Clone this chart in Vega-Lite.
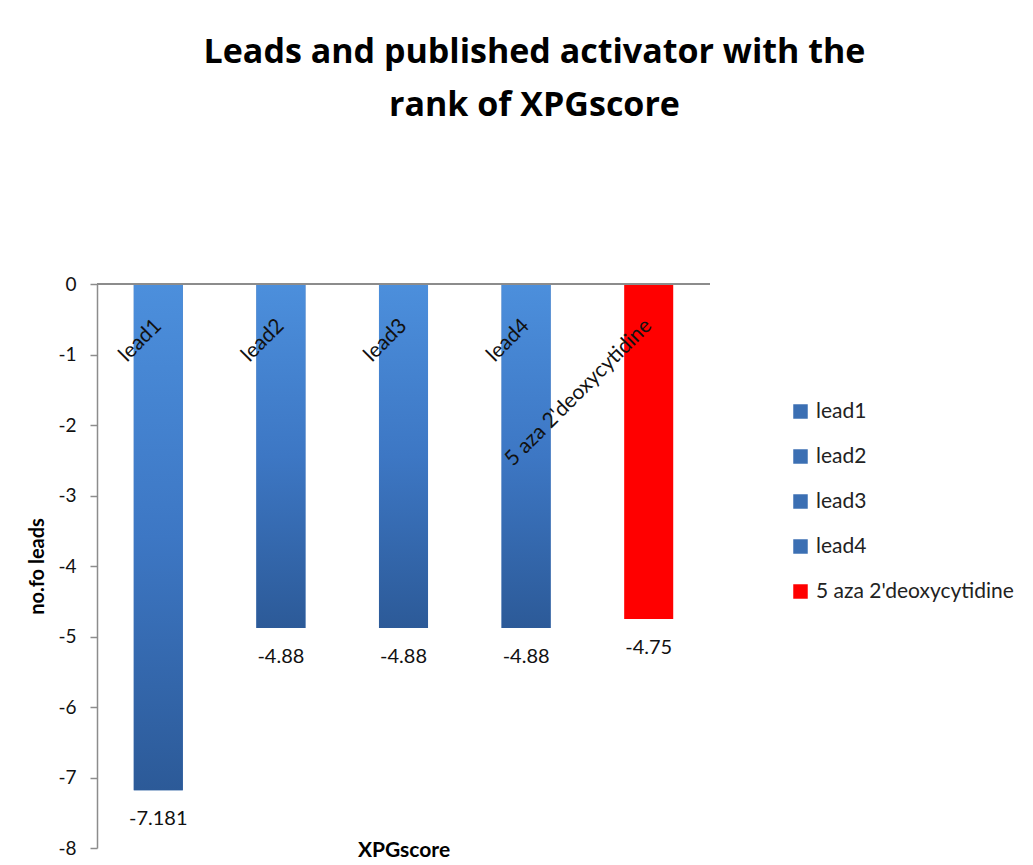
{
  "$schema": "https://vega.github.io/schema/vega-lite/v6.json",
  "width": 613,
  "height": 564,
  "autosize": {"type": "none"},
  "padding": {"left": 97, "top": 284, "right": 323, "bottom": 17},
  "background": "white",
  "config": {"view": {"stroke": null}, "font": "Lato"},
  "title": {
    "text": ["Leads and published activator with the", "rank of XPGscore"],
    "font": "Open Sans",
    "fontSize": 34,
    "fontWeight": "bold",
    "color": "#000000",
    "lineHeight": 53,
    "anchor": "middle",
    "frame": "group",
    "dx": 131,
    "offset": 152
  },
  "data": {
    "values": [
      {"name": "lead1", "value": -7.181},
      {"name": "lead2", "value": -4.88},
      {"name": "lead3", "value": -4.88},
      {"name": "lead4", "value": -4.88},
      {"name": "5 aza 2'deoxycytidine", "value": -4.75}
    ]
  },
  "encoding": {
    "x": {
      "field": "name",
      "type": "nominal",
      "sort": null,
      "scale": {"paddingInner": 0.6, "paddingOuter": 0.3},
      "axis": {
        "orient": "bottom",
        "domain": false,
        "ticks": false,
        "labels": false,
        "title": "XPGscore",
        "titleFont": "Lato",
        "titleFontSize": 21,
        "titleFontWeight": "bold",
        "titleColor": "#000000",
        "titlePadding": -9
      }
    }
  },
  "layer": [
    {
      "mark": {"type": "bar"},
      "encoding": {
        "y": {
          "field": "value",
          "type": "quantitative",
          "scale": {"domain": [-8, 0], "nice": false, "zero": false},
          "axis": {
            "values": [-8, -7, -6, -5, -4, -3, -2, -1, 0],
            "labelExpr": "'' + datum.value",
            "grid": false,
            "domainColor": "#8c8c8c",
            "domainWidth": 1.5,
            "tickColor": "#8c8c8c",
            "tickWidth": 1.5,
            "tickSize": 7,
            "labelFont": "Lato",
            "labelFontSize": 19,
            "labelColor": "#111111",
            "labelPadding": 14,
            "title": "no.fo leads",
            "titleFont": "Lato",
            "titleFontSize": 20,
            "titleFontWeight": "bold",
            "titleColor": "#000000",
            "titlePadding": 10
          }
        },
        "color": {
          "field": "name",
          "type": "nominal",
          "sort": null,
          "scale": {
            "domain": ["lead1", "lead2", "lead3", "lead4", "5 aza 2'deoxycytidine"],
            "range": ["#3b6fb3", "#3b6fb3", "#3b6fb3", "#3b6fb3", "#ff0000"]
          },
          "legend": {
            "orient": "none",
            "legendX": 693,
            "legendY": 117,
            "padding": 0,
            "title": null,
            "symbolType": "square",
            "symbolSize": 210,
            "symbolStrokeWidth": 0,
            "labelFont": "Lato",
            "labelFontSize": 21,
            "labelColor": "#222222",
            "labelOffset": 5,
            "rowPadding": 23,
            "labelLimit": 300
          }
        }
      }
    },
    {
      "transform": [{"filter": "datum.name !== \"5 aza 2'deoxycytidine\""}],
      "mark": {
        "type": "bar",
        "color": {
          "gradient": "linear",
          "x1": 0, "y1": 0, "x2": 0, "y2": 1,
          "stops": [
            {"offset": 0, "color": "#4c8fdc"},
            {"offset": 0.5, "color": "#3d77c4"},
            {"offset": 1, "color": "#2c5a98"}
          ]
        }
      },
      "encoding": {
        "y": {"field": "value", "type": "quantitative"}
      }
    },
    {
      "mark": {"type": "rule", "color": "#8c8c8c", "strokeWidth": 2},
      "encoding": {"y": {"datum": 0}, "x": {"value": 0}, "x2": {"value": 613}}
    },
    {
      "mark": {"type": "text", "angle": -45, "align": "right", "baseline": "middle", "font": "Lato", "fontSize": 21, "color": "#111111"},
      "encoding": {
        "y": {"datum": -0.55},
        "text": {"field": "name", "type": "nominal"}
      }
    },
    {
      "mark": {"type": "text", "align": "center", "baseline": "middle", "dy": 29, "font": "Lato", "fontSize": 20, "color": "#111111"},
      "encoding": {
        "y": {"field": "value", "type": "quantitative"},
        "text": {"field": "value", "type": "nominal"}
      }
    }
  ]
}
